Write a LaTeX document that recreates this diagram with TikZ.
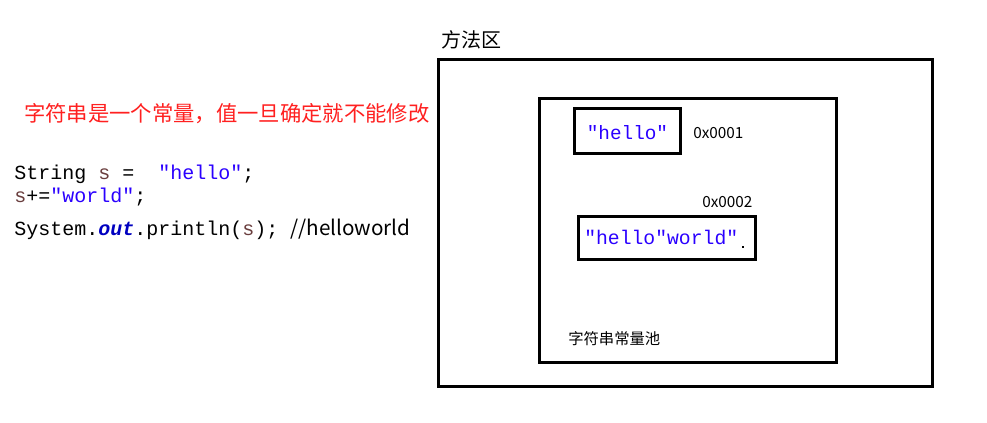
\documentclass[tikz,border=0pt]{standalone}
\usepackage{fontspec}
\setmainfont{Noto Sans CJK SC}
\setmonofont{Liberation Mono}
\newfontfamily\cjk{Noto Sans CJK SC}
\definecolor{strblue}{HTML}{2A00FF}
\definecolor{varbrown}{HTML}{6A3E3E}
\definecolor{fieldblue}{HTML}{0000C0}
\definecolor{redtxt}{HTML}{FF2020}
\tikzset{
  boxline/.style={draw=black, line width=2.2pt},
  codetxt/.style={anchor=west, inner sep=0pt, font=\ttfamily\fontsize{15}{17}\selectfont},
  smalltxt/.style={inner sep=0pt, font=\cjk\fontsize{11.5}{13}\selectfont},
}
\begin{document}
\begin{tikzpicture}[x=0.75pt,y=-0.75pt]
\useasboundingbox (0,0) rectangle (987,422);
% boxes
\node[boxline, minimum width=494*0.75pt, minimum height=327*0.75pt, anchor=north west, inner sep=0pt] (method) at (437,58) {};
\node[boxline, minimum width=297*0.75pt, minimum height=264*0.75pt, anchor=north west, inner sep=0pt] (pool) at (538,97) {};
\node[boxline, minimum width=106*0.75pt, minimum height=45*0.75pt, anchor=north west, inner sep=0pt] (hello) at (573,107) {};
\node[boxline, minimum width=177*0.75pt, minimum height=43*0.75pt, anchor=north west, inner sep=0pt] (hw) at (577,215) {};
% box contents
\node[inner sep=0pt, text=strblue, font=\ttfamily\fontsize{14.5}{16}\selectfont] (hellotxt) at ([yshift=-1.5pt]hello.center) {"hello"};
\node[inner sep=0pt, text=strblue, font=\ttfamily\fontsize{14.8}{16}\selectfont, anchor=west] (hwtxt) at (584,237) {"hello"world"};
\fill (742,246) rectangle (743.5,247.5);
% labels
\node[smalltxt, anchor=west] (a1) at (693,133) {0x0001};
\node[smalltxt, anchor=west] (a2) at (702,202) {0x0002};
\node[smalltxt, anchor=west] (pooltxt) at (568,339) {字符串常量池};
\node[inner sep=0pt, anchor=west, font=\cjk\fontsize{15}{18}\selectfont] (mtitle) at (441,40) {方法区};
% red note
\node[inner sep=0pt, anchor=west, text=redtxt, font=\cjk\fontsize{16}{18}\selectfont] (note) at (24,114) {字符串是一个常量，值一旦确定就不能修改};
% code
\node[codetxt] (l1) at (14,174) {String \textcolor{varbrown}{s} =\ \ \textcolor{strblue}{"hello"};};
\node[codetxt] (l2) at (14,197) {\textcolor{varbrown}{s}+=\textcolor{strblue}{"world"};};
\node[codetxt] (l3) at (14,229) {System.\textcolor{fieldblue}{\bfseries\itshape out}.println(\textcolor{varbrown}{s}); {\cjk\fontsize{15.5}{17}\selectfont //helloworld}};
\end{tikzpicture}
\end{document}
